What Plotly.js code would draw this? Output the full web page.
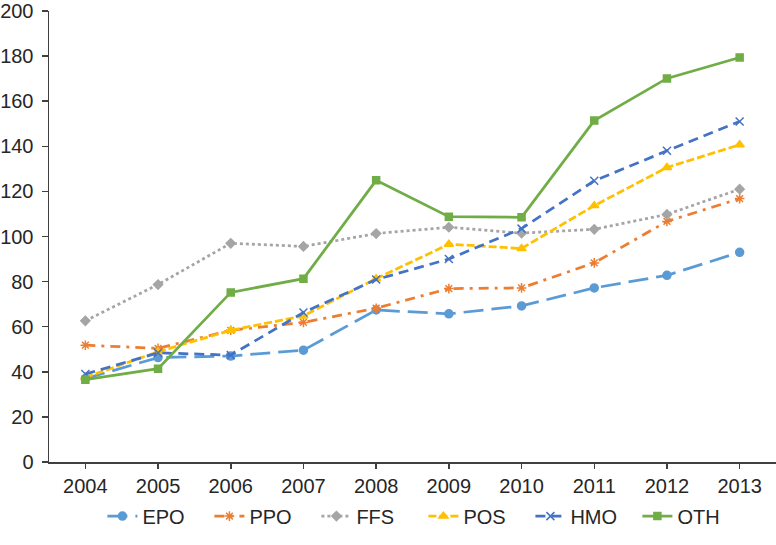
<!DOCTYPE html>
<html>
<head>
<meta charset="utf-8">
<script src="https://cdn.plot.ly/plotly-3.0.1.min.js"></script>
<style>
  html, body { margin: 0; padding: 0; background: #fff; }
  #chart { width: 776px; height: 545px; }
</style>
</head>
<body>
<div id="chart"></div>
<script>
const years = ['2004', '2005', '2006', '2007', '2008', '2009', '2010', '2011', '2012', '2013'];

const epo = [37, 46.3, 47, 49.6, 67.4, 65.7, 69.2, 77.2, 82.8, 93];
const ppo = [51.8, 50.4, 58.4, 61.9, 68.2, 76.9, 77.2, 88.3, 106.7, 116.8];
const ffs = [62.6, 78.7, 97, 95.6, 101.3, 104.1, 101.5, 103.2, 109.8, 121];
const pos = [37.5, 48.9, 58.4, 64.8, 81.3, 96.6, 94.7, 113.7, 130.6, 140.7];
const hmo = [39, 48.4, 47.4, 66.3, 80.9, 90, 103.5, 124.7, 138, 151];
const oth = [36.5, 41.4, 75.2, 81.3, 124.9, 108.8, 108.5, 151.4, 170.1, 179.4];

const fontFamily = '"Liberation Sans", Arial, sans-serif';
const textColor = '#262626';

function series(name, y, color, dash, symbol, size) {
  return {
    x: years,
    y: y,
    name: name,
    type: 'scatter',
    mode: 'lines+markers',
    line: { color: color, width: 2.75, dash: dash },
    marker: { color: color, symbol: symbol, size: size, line: { color: color, width: 1.5 } }
  };
}

const data = [
  series('EPO', epo, '#5B9BD5', '20px,8px', 'circle', 8),
  series('PPO', ppo, '#ED7D31', '10px,6px,3px,6px', 'asterisk-open', 8),
  series('FFS', ffs, '#A5A5A5', '3px,3px', 'diamond', 7),
  series('POS', pos, '#FFC000', '8px,3px', 'triangle-up', 8),
  series('HMO', hmo, '#4472C4', '10px,6px', 'x-thin-open', 8),
  series('OTH', oth, '#70AD47', 'solid', 'square', 7)
];

const layout = {
  width: 776,
  height: 545,
  margin: { l: 49, r: 0, t: 11, b: 83 },
  paper_bgcolor: '#fff',
  plot_bgcolor: '#fff',
  font: { family: fontFamily, size: 20, color: textColor },
  showlegend: true,
  legend: {
    orientation: 'h',
    x: 0.515,
    xanchor: 'center',
    y: -0.12,
    yanchor: 'middle',
    font: { family: fontFamily, size: 20, color: textColor },
    entrywidth: 62,
    traceorder: 'normal'
  },
  xaxis: {
    type: 'category',
    range: [-0.5, 9.5],
    showgrid: false,
    zeroline: false,
    showline: true,
    linecolor: '#404040',
    linewidth: 1.5,
    ticks: 'outside',
    ticklen: 5,
    tickwidth: 1.5,
    tickcolor: '#404040',
    tickfont: { family: fontFamily, size: 20, color: textColor }
  },
  yaxis: {
    range: [0, 200],
    dtick: 20,
    tick0: 0,
    showgrid: false,
    zeroline: false,
    showline: true,
    linecolor: '#404040',
    linewidth: 1.5,
    ticks: 'outside',
    ticklen: 6,
    tickwidth: 1.5,
    tickcolor: '#404040',
    ticklabelstandoff: 4,
    ticklabeloverflow: 'allow',
    tickfont: { family: fontFamily, size: 20, color: textColor }
  }
};

Plotly.newPlot('chart', data, layout, { displayModeBar: false, staticPlot: true });
</script>
</body>
</html>
